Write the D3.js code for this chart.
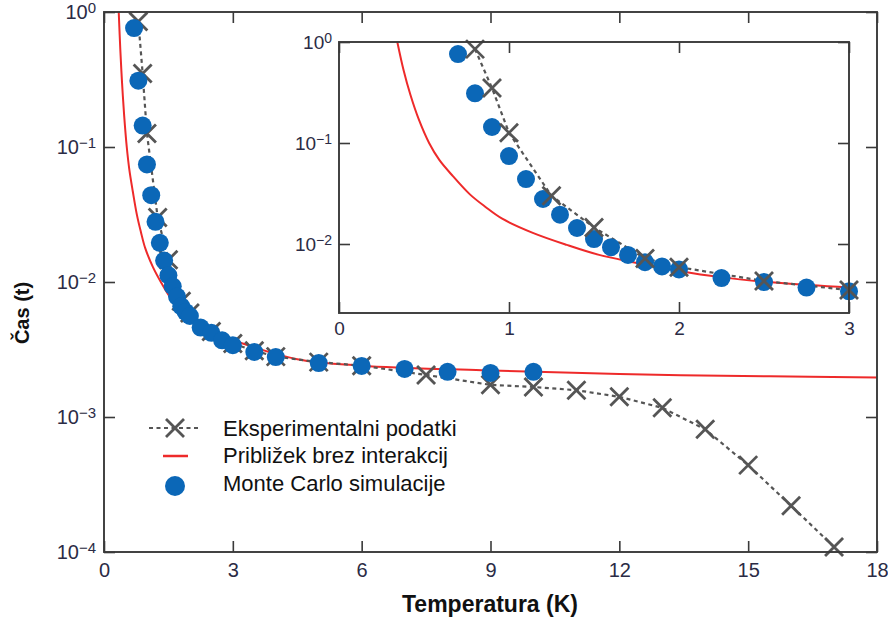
<!DOCTYPE html>
<html>
<head>
<meta charset="utf-8">
<script src="https://cdn.jsdelivr.net/npm/d3@7"></script>
<style>
  html, body { margin: 0; padding: 0; background: #fff; }
  svg { display: block; }
</style>
</head>
<body>
<svg id="chart" width="888" height="618"></svg>
<script>
// ---------- DATA ----------
// Experimental data (grey crosses, dashed line)
const expT   = [0.8, 0.9, 1.0, 1.25, 1.5, 1.8, 2.0, 2.5, 3.0, 3.5, 4.0, 5.0, 6.0, 7.5, 9, 10, 11, 12, 13, 14, 15, 16, 17];
const expTau = [0.85, 0.35, 0.126, 0.030, 0.0146, 0.0072, 0.0059, 0.0043, 0.0035, 0.0031, 0.0028, 0.00255, 0.0024, 0.00205, 0.00173, 0.00167, 0.00158, 0.00141, 0.00117, 0.00081, 0.00044, 0.00022, 0.000109];

// Monte Carlo simulation (blue dots)
const mcT   = [0.7, 0.8, 0.9, 1.0, 1.1, 1.2, 1.3, 1.4, 1.5, 1.6, 1.7, 1.8, 1.9, 2.0, 2.25, 2.5, 2.75, 3.0, 3.5, 4, 5, 6, 7, 8, 9, 10];
const mcTau = [0.76, 0.31, 0.144, 0.0743, 0.044, 0.0279, 0.0195, 0.0144, 0.0112, 0.0093, 0.0078, 0.0066, 0.0060, 0.0056, 0.0046, 0.0042, 0.0037, 0.0034, 0.00303, 0.00278, 0.00251, 0.00239, 0.00227, 0.00216, 0.00212, 0.00216];

// Non-interacting approximation (red curve)
const approxT   = [0.343, 0.38, 0.42, 0.47, 0.53, 0.59, 0.67, 0.77, 0.86, 0.96, 1.14, 1.34, 1.53, 1.73, 2.0, 2.24, 2.6, 3.0, 4.5, 6, 8.8, 12, 15.5, 18];
const approxTau = [1.0, 0.525, 0.30, 0.17, 0.10, 0.068, 0.047, 0.031, 0.0234, 0.0178, 0.0129, 0.0098, 0.0078, 0.0066, 0.0054, 0.0047, 0.0041, 0.0037, 0.00268, 0.0024, 0.00222, 0.00208, 0.00200, 0.00196];

// Ticks
const mainXTicks = [0, 3, 6, 9, 12, 15, 18];
const mainYTicks = [1, 1e-1, 1e-2, 1e-3, 1e-4];
const mainYExp   = ["0", "\u22121", "\u22122", "\u22123", "\u22124"];
const insetXTicks = [0, 1, 2, 3];
const insetYTicks = [1, 1e-1, 1e-2];
const insetYExp   = ["0", "\u22121", "\u22122"];

const legendLabels = ["Eksperimentalni podatki", "Približek brez interakcij", "Monte Carlo simulacije"];
const xTitle = "Temperatura (K)";
const yTitle = "Čas (t)";

// ---------- STYLE ----------
const C_EXP = "#555555", C_RED = "#ee2a2a", C_MC = "#0b67b7", C_AX = "#3a3a3a", C_TXT = "#2b2b45";
const tickFont = "'Liberation Sans', Arial, sans-serif";

const svg = d3.select("#chart");

const zip = (a, b) => a.map((v, i) => [v, b[i]]);
const expData = zip(expT, expTau);
const mcData = zip(mcT, mcTau);
const apxData = zip(approxT, approxTau);

function crossPath(s) { return `M${-s},${-s}L${s},${s}M${-s},${s}L${s},${-s}`; }

function supLabels(sel, exps, supSize) {
  sel.selectAll(".tick text").each(function(d, i) {
    const t = d3.select(this);
    t.text(null);
    t.append("tspan").text("10");
    t.append("tspan").attr("dy", "-0.42em").attr("font-size", supSize).text(exps[i]);
  });
}

function drawPanel(g, x, y, opts) {
  const [x0, x1] = x.range();
  const [yb, yt] = [opts.bottom, opts.top];
  const id = opts.id;
  svg.append("defs").append("clipPath").attr("id", id)
    .append("rect").attr("x", x0).attr("y", yt).attr("width", x1 - x0).attr("height", yb - yt);
  g.append("rect").attr("x", x0).attr("y", yt).attr("width", x1 - x0).attr("height", yb - yt)
    .attr("fill", "#fff");

  const exp = expData.filter(d => d[0] <= opts.maxX);
  const mc = mcData.filter(d => d[0] <= opts.maxX);
  const apx = apxData.filter(d => d[0] <= opts.maxX + 0.001);

  const lines = g.append("g").attr("clip-path", `url(#${id})`);
  const data = g.append("g");

  lines.append("path").datum(apx)
    .attr("d", d3.line().x(d => x(d[0])).y(d => y(d[1])).curve(d3.curveCatmullRom.alpha(0.5)))
    .attr("fill", "none").attr("stroke", C_RED).attr("stroke-width", 2);
  lines.append("path").datum(exp)
    .attr("d", d3.line().x(d => x(d[0])).y(d => y(d[1])))
    .attr("fill", "none").attr("stroke", C_EXP).attr("stroke-width", 2.2).attr("stroke-dasharray", "4,3.5");

  const drawX = () => data.append("g").selectAll("path").data(exp).join("path")
    .attr("transform", d => `translate(${x(d[0])},${y(d[1])})`)
    .attr("d", crossPath(9)).attr("stroke", C_EXP).attr("stroke-width", 2.8).attr("fill", "none");
  const drawDots = () => data.append("g").selectAll("circle").data(mc).join("circle")
    .attr("cx", d => x(d[0])).attr("cy", d => y(d[1])).attr("r", 9).attr("fill", C_MC);

  if (opts.crossOnTop) { drawDots(); drawX(); } else { drawX(); drawDots(); }

  const tl = 11;
  const bottom = g.append("g").attr("transform", `translate(0,${yb})`)
    .call(d3.axisBottom(x).tickValues(opts.xTicks).tickSizeInner(-tl).tickSizeOuter(0).tickPadding(opts.xPad).tickFormat(d3.format("d")));
  const top = g.append("g").attr("transform", `translate(0,${yt})`)
    .call(d3.axisTop(x).tickValues(opts.xTicks).tickSizeInner(-tl).tickSizeOuter(0).tickFormat(""));
  const left = g.append("g").attr("transform", `translate(${x0},0)`)
    .call(d3.axisLeft(y).tickValues(opts.yTicks).tickSizeInner(-tl).tickSizeOuter(0).tickPadding(opts.yPad));
  const right = g.append("g").attr("transform", `translate(${x1},0)`)
    .call(d3.axisRight(y).tickValues(opts.yTicks).tickSizeInner(-tl).tickSizeOuter(0).tickFormat(""));
  [bottom, top, left, right].forEach(a => {
    a.select(".domain").remove();
    a.selectAll(".tick line").attr("stroke", C_AX).attr("stroke-width", 1.6);
    a.selectAll("text").attr("fill", C_TXT).attr("font-family", tickFont).attr("font-size", opts.fontSize);
  });
  supLabels(left, opts.yExp, opts.supSize);
  g.append("rect").attr("x", x0).attr("y", yt).attr("width", x1 - x0).attr("height", yb - yt)
    .attr("fill", "none").attr("stroke", C_AX).attr("stroke-width", 1.9);
}

// ---------- MAIN PANEL ----------
const x = d3.scaleLinear().domain([0, 18]).range([104, 877]);
const y = d3.scaleLog().domain([1e-4, 1]).range([552, 12]);
drawPanel(svg.append("g"), x, y, {
  id: "clipMain", bottom: 552, top: 12, maxX: 18, xTicks: mainXTicks, yTicks: mainYTicks, yExp: mainYExp,
  xPad: 11, yPad: 8, fontSize: 20, supSize: 15, crossOnTop: false
});

// ---------- INSET ----------
const xi = d3.scaleLinear().domain([0, 3]).range([339, 849]);
const yi = d3.scaleLog().domain([1e-2, 1]).range([244, 42]);
drawPanel(svg.append("g"), xi, yi, {
  id: "clipInset", bottom: 313, top: 42, maxX: 3, xTicks: insetXTicks, yTicks: insetYTicks, yExp: insetYExp,
  xPad: 9, yPad: 7, fontSize: 19, supSize: 14, crossOnTop: true
});

// ---------- LEGEND ----------
const lg = svg.append("g");
const lx = 175, ly = [428, 456, 486];
lg.append("line").attr("x1", lx - 26).attr("x2", lx + 24).attr("y1", ly[0]).attr("y2", ly[0])
  .attr("stroke", C_EXP).attr("stroke-width", 2.2).attr("stroke-dasharray", "4,3.5");
lg.append("path").attr("transform", `translate(${lx},${ly[0]})`).attr("d", crossPath(9))
  .attr("stroke", C_EXP).attr("stroke-width", 2.8).attr("fill", "none");
lg.append("line").attr("x1", lx - 12).attr("x2", lx + 13).attr("y1", ly[1]).attr("y2", ly[1])
  .attr("stroke", C_RED).attr("stroke-width", 2.5);
lg.append("circle").attr("cx", lx).attr("cy", ly[2]).attr("r", 10).attr("fill", C_MC);
lg.selectAll("text.lab").data(legendLabels).join("text").attr("class", "lab")
  .attr("x", 223).attr("y", (d, i) => [436, 463, 491][i])
  .attr("font-family", "'Liberation Sans', Arial, sans-serif").attr("font-size", 22)
  .attr("fill", "#111").text(d => d);

// ---------- AXIS TITLES ----------
svg.append("text").attr("x", 490).attr("y", 612).attr("text-anchor", "middle")
  .attr("font-family", "'Liberation Sans', Arial, sans-serif").attr("font-weight", "bold").attr("font-size", 23)
  .attr("fill", "#111").text(xTitle);
svg.append("text").attr("transform", "translate(29,313) rotate(-90)").attr("text-anchor", "middle")
  .attr("font-family", "'Liberation Sans', Arial, sans-serif").attr("font-weight", "bold").attr("font-size", 20)
  .attr("fill", "#111").text(yTitle);
</script>
</body>
</html>
